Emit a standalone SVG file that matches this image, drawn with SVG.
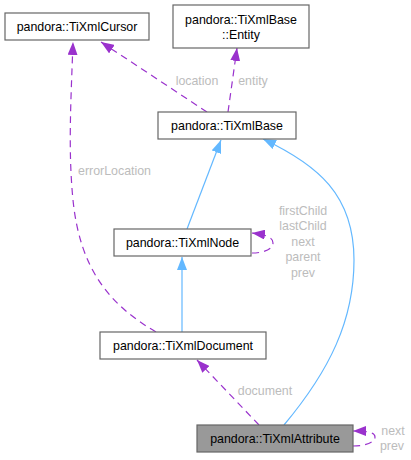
<svg xmlns="http://www.w3.org/2000/svg" width="411" height="460" viewBox="0 0 411 460">
<style>
.box{fill:#ffffff;stroke:#666666;stroke-width:1.2}
.cur{fill:#999999;stroke:#666666;stroke-width:1.2}
.nt{font-family:"Liberation Sans",Arial,sans-serif;font-size:12.4px;fill:#000000;text-anchor:middle}
.lb{font-family:"Liberation Sans",Arial,sans-serif;font-size:12.4px;fill:#bcbcbc;text-anchor:middle}
.use{fill:none;stroke:#9a32cd;stroke-width:1.2;stroke-dasharray:7,5}
.inh{fill:none;stroke:#63b8ff;stroke-width:1.2}
</style>
<defs>
<marker id="ap" viewBox="0 0 13 10" refX="13" refY="5" markerUnits="userSpaceOnUse" markerWidth="13" markerHeight="10" orient="auto">
<path d="M0,0 L13,5 L0,10 z" fill="#9a32cd"/>
</marker>
<marker id="ab" viewBox="0 0 13 10" refX="13" refY="5" markerUnits="userSpaceOnUse" markerWidth="13" markerHeight="10" orient="auto">
<path d="M0,0 L13,5 L0,10 z" fill="#63b8ff"/>
</marker>
</defs>
<g id="edges">
<path class="use" d="M207,112 L101,42" marker-end="url(#ap)"/>
<path class="use" d="M228,112 L237,48" marker-end="url(#ap)"/>
<path class="use" d="M156,332 C110,305 80,270 73,200 C68,150 71,100 73,42" marker-end="url(#ap)"/>
<path class="inh" d="M187,229 L221,140" marker-end="url(#ab)"/>
<path class="inh" d="M284,425 C330,370 354,320 354,260 C354,195 318,165 263,139" marker-end="url(#ab)"/>
<path class="inh" d="M182,332 L182,257" marker-end="url(#ab)"/>
<path class="use" d="M252,253 C264,253 273,249 273,243 C273,238 268,235 252,233" marker-end="url(#ap)"/>
<path class="use" d="M259,425 L197,360" marker-end="url(#ap)"/>
<path class="use" d="M353,446 C366,446 375,442 375,437 C375,433 370,431 353,431" marker-end="url(#ap)"/>
<text class="lb" x="197" y="85">location</text>
<text class="lb" x="253" y="85">entity</text>
<text class="lb" x="78" y="175" style="text-anchor:start">errorLocation</text>
<text class="lb" x="303" y="215">firstChild</text>
<text class="lb" x="303" y="230">lastChild</text>
<text class="lb" x="303" y="246">next</text>
<text class="lb" x="303" y="261">parent</text>
<text class="lb" x="303" y="277">prev</text>
<text class="lb" x="265" y="395">document</text>
<text class="lb" x="393" y="435">next</text>
<text class="lb" x="392" y="450">prev</text>
</g>
<g id="TiXmlCursor">
<rect class="box" x="5" y="13" width="144" height="27"/>
<text class="nt" x="77" y="31">pandora::TiXmlCursor</text>
</g>
<g id="Entity">
<rect class="box" x="173" y="5" width="136" height="43"/>
<text class="nt" x="241" y="24">pandora::TiXmlBase</text>
<text class="nt" x="241" y="39">::Entity</text>
</g>
<g id="TiXmlBase">
<rect class="box" x="158" y="112" width="138" height="27"/>
<text class="nt" x="227" y="130">pandora::TiXmlBase</text>
</g>
<g id="TiXmlNode">
<rect class="box" x="114" y="229" width="137" height="27"/>
<text class="nt" x="182.5" y="247">pandora::TiXmlNode</text>
</g>
<g id="TiXmlDocument">
<rect class="box" x="100" y="332" width="166" height="27"/>
<text class="nt" x="183" y="350">pandora::TiXmlDocument</text>
</g>
<g id="TiXmlAttribute">
<rect class="cur" x="197" y="425" width="156" height="27"/>
<text class="nt" x="275" y="443">pandora::TiXmlAttribute</text>
</g>
</svg>
